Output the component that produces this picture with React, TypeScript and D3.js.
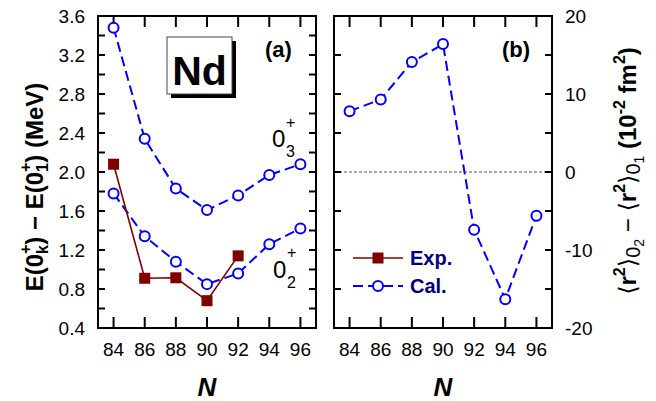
import React from "react";
import * as d3 from "d3";

const N = [84, 86, 88, 90, 92, 94, 96];
const expN = [84, 86, 88, 90, 92];
const expE = [2.08, 0.91, 0.915, 0.68, 1.14];
const cal03 = [3.48, 2.34, 1.83, 1.61, 1.76, 1.97, 2.08];
const cal02 = [1.78, 1.34, 1.08, 0.85, 0.96, 1.26, 1.42];
const calR = [7.8, 9.3, 14.1, 16.4, -7.4, -16.3, -5.6];
const xTicks = [84, 86, 88, 90, 92, 94, 96];
const yTicksA = [0.4, 0.8, 1.2, 1.6, 2.0, 2.4, 2.8, 3.2, 3.6];
const yMinorA = d3.range(0, 17).map((i) => 0.4 + i * 0.2);
const yTicksB = [-20, -10, 0, 10, 20];
const yMinorB = [-20, -15, -10, -5, 0, 5, 10, 15, 20];

const FONT = "'Liberation Sans', Arial, sans-serif";
const RED = "#800000";
const BLUE = "#0000ff";
const NAVY = "#000080";

const top = 16, bottom = 328;
const xA = d3.scaleLinear().domain([83, 97]).range([98, 316]);
const yA = d3.scaleLinear().domain([0.4, 3.6]).range([bottom, top]);
const xB = d3.scaleLinear().domain([83, 97]).range([334, 552]);
const yB = d3.scaleLinear().domain([-20, 20]).range([bottom, top]);

function Frame({ x, y, yMinor }: any) {
  const [x0, x1] = x.range();
  return (
    <g stroke="#000" strokeWidth={2} fill="none">
      {xTicks.map((t: number) => (
        <g key={"x" + t}>
          <line x1={x(t)} x2={x(t)} y1={bottom} y2={bottom - 11} />
          <line x1={x(t)} x2={x(t)} y1={top} y2={top + 11} />
        </g>
      ))}
      {yMinor.map((t: number) => (
        <g key={"y" + t}>
          <line x1={x0} x2={x0 + 7} y1={y(t)} y2={y(t)} />
          <line x1={x1} x2={x1 - 7} y1={y(t)} y2={y(t)} />
        </g>
      ))}
      <rect x={x0} y={top} width={x1 - x0} height={bottom - top} />
    </g>
  );
}

function CalSeries({ xs, ys, x, y }: any) {
  const line = d3.line<number>().x((_, i) => x(xs[i])).y((d) => y(d));
  return (
    <g>
      <path d={line(ys) || ""} fill="none" stroke={BLUE} strokeWidth={2} strokeDasharray="10,5" />
      {ys.map((v: number, i: number) => (
        <circle key={i} cx={x(xs[i])} cy={y(v)} r={5} fill="#fff" stroke={BLUE} strokeWidth={2} />
      ))}
    </g>
  );
}

export default function App() {
  const expLine = d3.line<number>().x((_, i) => xA(expN[i])).y((d) => yA(d));
  const sq = 11;
  return (
    <svg width={656} height={401} style={{ position: "absolute", left: 0, top: 0, background: "#fff" }} fontFamily={FONT}>
      <rect width={656} height={401} fill="#fff" />
      {/* Panel a */}
      <Frame x={xA} y={yA} yMinor={yMinorA} />
      <CalSeries xs={N} ys={cal03} x={xA} y={yA} />
      <CalSeries xs={N} ys={cal02} x={xA} y={yA} />
      <path d={expLine(expE) || ""} fill="none" stroke={RED} strokeWidth={1.6} />
      {expE.map((v, i) => (
        <rect key={i} x={xA(expN[i]) - sq / 2} y={yA(v) - sq / 2} width={sq} height={sq} fill={RED} />
      ))}
      {yTicksA.map((t) => (
        <text key={t} x={85} y={yA(t)} dy="0.36em" textAnchor="end" fontSize={19}>{t.toFixed(1)}</text>
      ))}
      {xTicks.map((t) => (
        <text key={t} x={xA(t)} y={356} textAnchor="middle" fontSize={19}>{t}</text>
      ))}
      <text x={xA(90)} y={396} textAnchor="middle" fontSize={26} fontWeight="bold" fontStyle="italic">N</text>
      {/* Nd box */}
      <rect x={171} y={41} width={65} height={57} fill="#000" />
      <rect x={167} y={37} width={65} height={57} fill="#fff" stroke="#444" strokeWidth={1} />
      <text x={199.5} y={85} textAnchor="middle" fontSize={41} fontWeight="bold">Nd</text>
      <text x={265} y={57} fontSize={22} fontWeight="bold">(a)</text>
      {/* 0_3+ and 0_2+ */}
      <text x={272} y={147} fontSize={24}>0</text>
      <text x={286} y={157} fontSize={16}>3</text>
      <text x={286} y={128} fontSize={16}>+</text>
      <text x={273} y={278} fontSize={24}>0</text>
      <text x={287} y={288} fontSize={16}>2</text>
      <text x={287} y={258} fontSize={16}>+</text>
      {/* left y label */}
      <text transform="translate(43,187) rotate(-90)" textAnchor="middle" fontSize={24} fontWeight="bold">
        <tspan>E(0</tspan>
        <tspan fontSize={16} dy={5}>k</tspan>
        <tspan fontSize={16} dx={-9} dy={-17}>+</tspan>
        <tspan dy={12}>) − E(0</tspan>
        <tspan fontSize={16} dy={5}>1</tspan>
        <tspan fontSize={16} dx={-9} dy={-17}>+</tspan>
        <tspan dy={12}>) (MeV)</tspan>
      </text>

      {/* Panel b */}
      <line x1={xB(83)} x2={xB(97)} y1={yB(0)} y2={yB(0)} stroke="#555" strokeWidth={1} strokeDasharray="3,2" />
      <Frame x={xB} y={yB} yMinor={yMinorB} />
      <CalSeries xs={N} ys={calR} x={xB} y={yB} />
      {yTicksB.map((t) => (
        <text key={t} x={565} y={yB(t)} dy="0.36em" textAnchor="start" fontSize={19}>{t}</text>
      ))}
      {xTicks.map((t) => (
        <text key={t} x={xB(t)} y={356} textAnchor="middle" fontSize={19}>{t}</text>
      ))}
      <text x={xB(90)} y={396} textAnchor="middle" fontSize={26} fontWeight="bold" fontStyle="italic">N</text>
      <text x={502} y={57} fontSize={22} fontWeight="bold">(b)</text>
      {/* legend */}
      <line x1={353} x2={403} y1={258} y2={258} stroke={RED} strokeWidth={1.6} />
      <rect x={378 - sq / 2} y={258 - sq / 2} width={sq} height={sq} fill={RED} />
      <text x={410} y={258} dy="0.36em" fontSize={20} fontWeight="bold" fill={NAVY}>Exp.</text>
      <line x1={353} x2={403} y1={286} y2={286} stroke={BLUE} strokeWidth={2} strokeDasharray="10,5" />
      <circle cx={378} cy={286} r={5} fill="#fff" stroke={BLUE} strokeWidth={2} />
      <text x={410} y={286} dy="0.36em" fontSize={20} fontWeight="bold" fill={NAVY}>Cal.</text>
      {/* right y label */}
      <text transform="translate(636,171) rotate(-90)" textAnchor="middle" fontSize={24}>
        <tspan fontFamily="'DejaVu Sans'" fontWeight="normal">⟨</tspan>
        <tspan fontWeight="bold">r</tspan>
        <tspan fontWeight="bold" fontSize={16} dy={-11}>2</tspan>
        <tspan fontFamily="'DejaVu Sans'" dy={11}>⟩</tspan>
        <tspan fontSize={20} dy={4}>0</tspan>
        <tspan fontSize={14} dy={4}>2</tspan>
        <tspan dy={-8}> − </tspan>
        <tspan fontFamily="'DejaVu Sans'">⟨</tspan>
        <tspan fontWeight="bold">r</tspan>
        <tspan fontWeight="bold" fontSize={16} dy={-11}>2</tspan>
        <tspan fontFamily="'DejaVu Sans'" dy={11}>⟩</tspan>
        <tspan fontSize={20} dy={4}>0</tspan>
        <tspan fontSize={14} dy={4}>1</tspan>
        <tspan fontWeight="bold" dy={-8}>  (10</tspan>
        <tspan fontWeight="bold" fontSize={16} dy={-11}>-2</tspan>
        <tspan fontWeight="bold" dy={11}> fm</tspan>
        <tspan fontWeight="bold" fontSize={16} dy={-11}>2</tspan>
        <tspan fontWeight="bold" dy={11}>)</tspan>
      </text>
    </svg>
  );
}
